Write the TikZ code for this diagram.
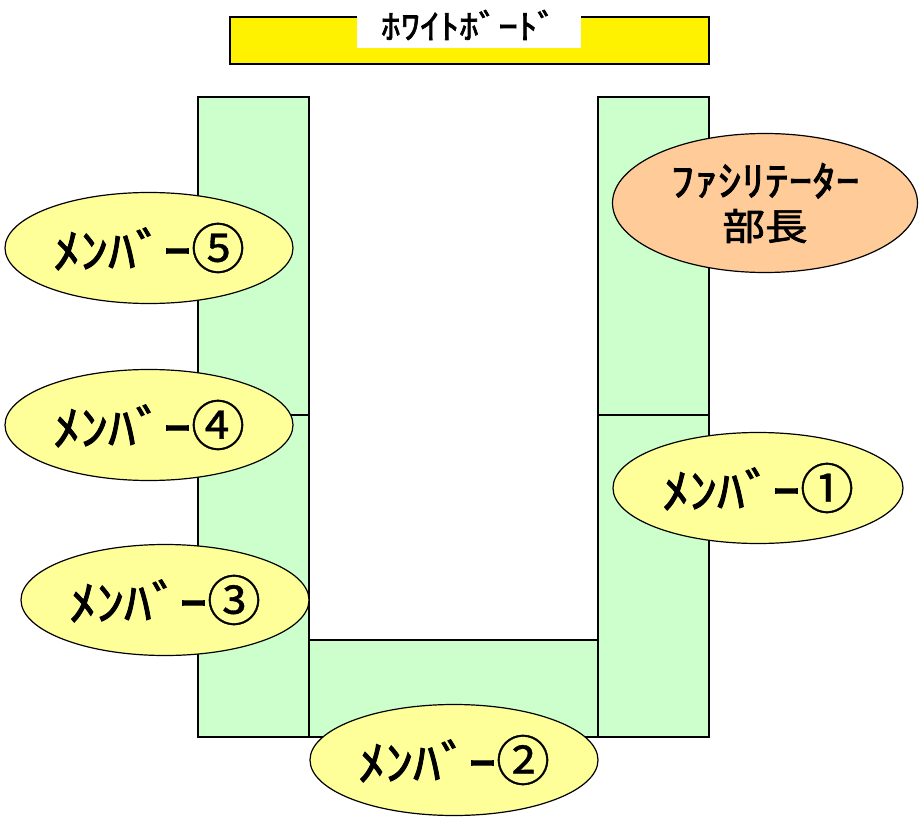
\documentclass[tikz,border=0pt]{standalone}
\usepackage{fontspec}
\newfontfamily\jp[FakeBold=2,FakeStretch=1.15]{Noto Sans CJK JP}
\newfontfamily\jpnum[FakeBold=0.6]{Noto Sans CJK JP}
\newcommand\seatno[1]{{\jpnum\fontsize{54}{54}\selectfont#1}}
\usetikzlibrary{shapes.geometric}
\definecolor{deskgreen}{HTML}{CCFFCC}
\definecolor{seatyellow}{HTML}{FFFF99}
\definecolor{chairpeach}{HTML}{FFCC99}

\begin{document}
\begin{tikzpicture}[x=1pt,y=-1pt,
  desk/.style={draw,line width=2pt,fill=deskgreen},
  seat/.style={ellipse,draw,line width=1.2pt,fill=seatyellow,inner sep=0pt,
    minimum width=288pt,minimum height=111pt,font=\jp\fontsize{48}{54}\selectfont}]
  \useasboundingbox (0,0) rectangle (924,821);
  % whiteboard
  \draw[line width=2pt,fill=yellow] (230,17) rectangle (709,64);
  \node[fill=white,minimum width=224pt,minimum height=46pt,inner sep=0pt,
    font=\jp\fontsize{34}{40}\selectfont] (board) at (469,25) {ﾎﾜｲﾄﾎﾞｰﾄﾞ};
  % U-shaped desks
  \draw[desk] (198,97) rectangle (309,415);
  \draw[desk] (198,415) rectangle (309,737);
  \draw[desk] (598,97) rectangle (709,415);
  \draw[desk] (598,415) rectangle (709,737);
  \draw[desk] (309,640) rectangle (598,737);
  % seats
  \node[seat] (m5) at (149,248) {ﾒﾝﾊﾞｰ\seatno{⑤}};
  \node[seat] (m4) at (149,425) {ﾒﾝﾊﾞｰ\seatno{④}};
  \node[seat] (m3) at (165,600) {ﾒﾝﾊﾞｰ\seatno{③}};
  \node[seat] (m2) at (454,760) {ﾒﾝﾊﾞｰ\seatno{②}};
  \node[seat,minimum width=290pt] (m1) at (758,488) {ﾒﾝﾊﾞｰ\seatno{①}};
  \node[seat,fill=chairpeach,minimum width=305pt,minimum height=139pt,align=center,
    font=\jp\fontsize{41}{44}\selectfont] (chief) at (765,203)
    {ﾌｧｼﾘﾃｰﾀｰ\\{\fontsize{37}{44}\selectfont 部長}};
\end{tikzpicture}
\end{document}
